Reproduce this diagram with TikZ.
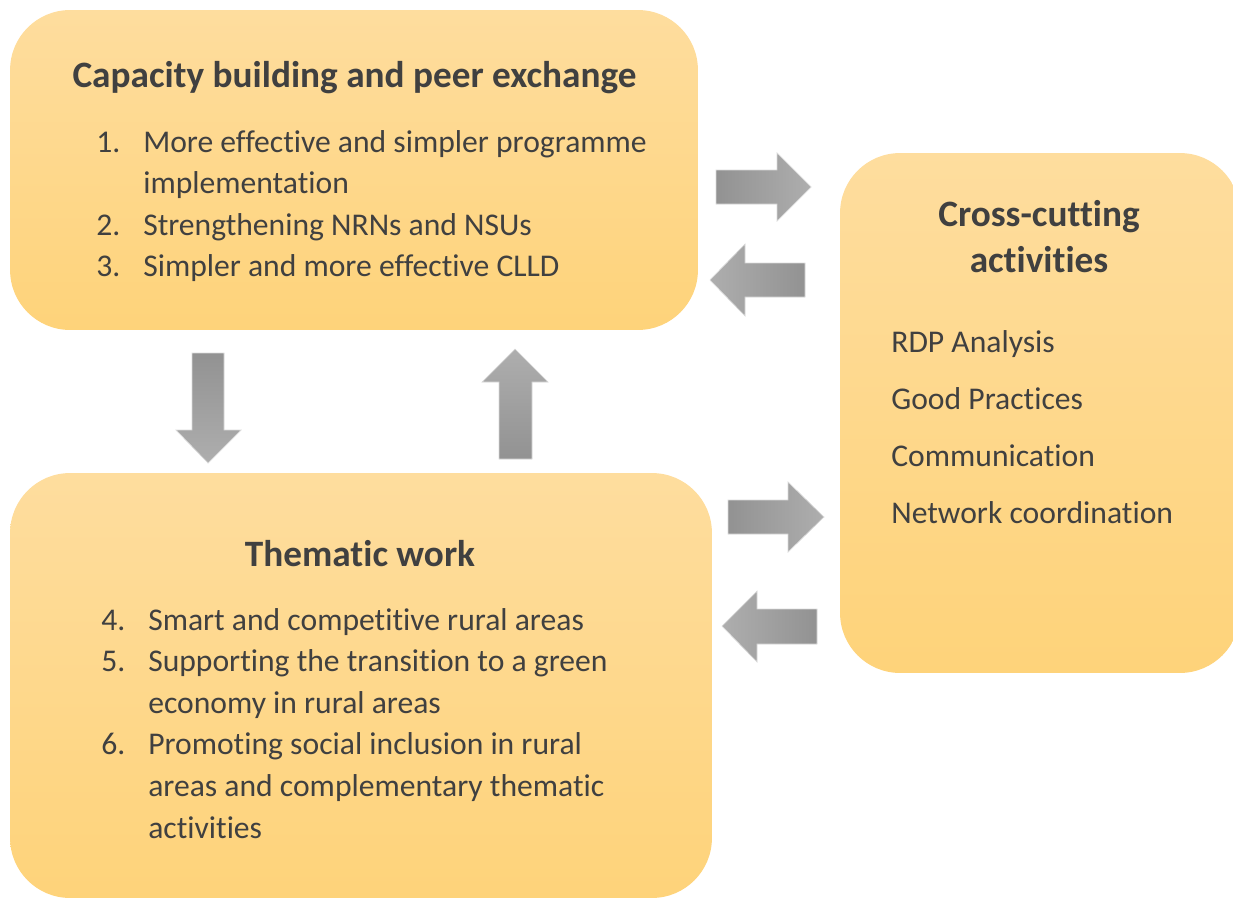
\documentclass[tikz,border=0pt]{standalone}
\usepackage{fontspec}
\setmainfont{Carlito}[Ligatures={NoCommon}]
\usetikzlibrary{positioning}

\definecolor{boxtop}{HTML}{FEDD9E}
\definecolor{boxbot}{HTML}{FED37A}
\definecolor{txt}{HTML}{404040}
\definecolor{arrdark}{HTML}{929292}
\definecolor{arrlight}{HTML}{AEAEAE}

\tikzset{
  box/.style={rounded corners=1.2cm, top color=boxtop, bottom color=boxbot, draw=none, inner sep=0pt},
  ttl/.style={font=\bfseries\fontsize{21.2}{26.7}\selectfont, text=txt, inner sep=0pt},
  itm/.style={font=\fontsize{18}{23.7}\selectfont, text=txt, anchor=base west, inner sep=0pt},
  blockarr/.style={draw=black!15, line width=0.4pt},
}

\begin{document}
\begin{tikzpicture}[x=0.02cm, y=-0.02cm]
        \useasboundingbox (0,0) rectangle (1233,899);

        % les trois blocs
        \node[box, minimum width=13.76cm, minimum height=6.4cm] (cap) at (354,170) {};
        \node[box, minimum width=14.04cm, minimum height=8.5cm] (them) at (361,685.5) {};
        \node[box, minimum width=8cm, minimum height=10.4cm] (cross) at (1040,413) {};

        % titres
        \node[ttl, anchor=base] (captitle) at (354.5,87) {Capacity building and peer exchange};
        \node[ttl, anchor=base] (themtitle) at (360,566) {Thematic work};
        \node[ttl, anchor=base] (crosstitle) at (1039,226)
            {\begin{tabular}[t]{@{}c@{}}Cross-cutting\\activities\end{tabular}};

        % listes
        \node[itm] (caplist) at (96,152) {\begin{tabular}[t]{@{}p{26.7pt}@{}l@{}}
            1. & More effective and simpler programme\\
               & implementation\\
            2. & Strengthening NRNs and NSUs\\
            3. & Simpler and more effective CLLD
            \end{tabular}};
        \node[itm] (themlist) at (101,630) {\begin{tabular}[t]{@{}p{26.7pt}@{}l@{}}
            4. & Smart and competitive rural areas\\
            5. & Supporting the transition to a green\\
               & economy in rural areas\\
            6. & Promoting social inclusion in rural\\
               & areas and complementary thematic\\
               & activities
            \end{tabular}};
        \node[itm, font=\fontsize{18}{32.6}\selectfont] (crosslist) at (891,352) {\begin{tabular}[t]{@{}l@{}}
            RDP Analysis\\
            Good Practices\\
            Communication\\
            Network coordination
            \end{tabular}};

        % fleches grises
        % cap -> cross
        \shade[blockarr, left color=arrdark, right color=arrlight]
            (716,170) -- (777,170) -- (777,153) -- (811,187) -- (777,221) -- (777,204) -- (716,204) -- cycle;
        % cross -> cap
        \shade[blockarr, left color=arrlight, right color=arrdark]
            (805,263) -- (745,263) -- (745,244) -- (710,280) -- (745,316) -- (745,297) -- (805,297) -- cycle;
        % them -> cross
        \shade[blockarr, left color=arrdark, right color=arrlight]
            (728,500) -- (788,500) -- (788,482) -- (824,517) -- (788,552) -- (788,534) -- (728,534) -- cycle;
        % cross -> them
        \shade[blockarr, left color=arrlight, right color=arrdark]
            (817,609) -- (757,609) -- (757,591) -- (722,626) -- (757,662) -- (757,644) -- (817,644) -- cycle;
        % cap -> them
        \shade[blockarr, top color=arrdark, bottom color=arrlight]
            (192,353) -- (224,353) -- (224,430) -- (241,430) -- (208,463) -- (176,430) -- (192,430) -- cycle;
        % them -> cap
        \shade[blockarr, top color=arrlight, bottom color=arrdark]
            (499,459) -- (499,382) -- (482,382) -- (515,349) -- (548,382) -- (532,382) -- (532,459) -- cycle;
\end{tikzpicture}
\end{document}
